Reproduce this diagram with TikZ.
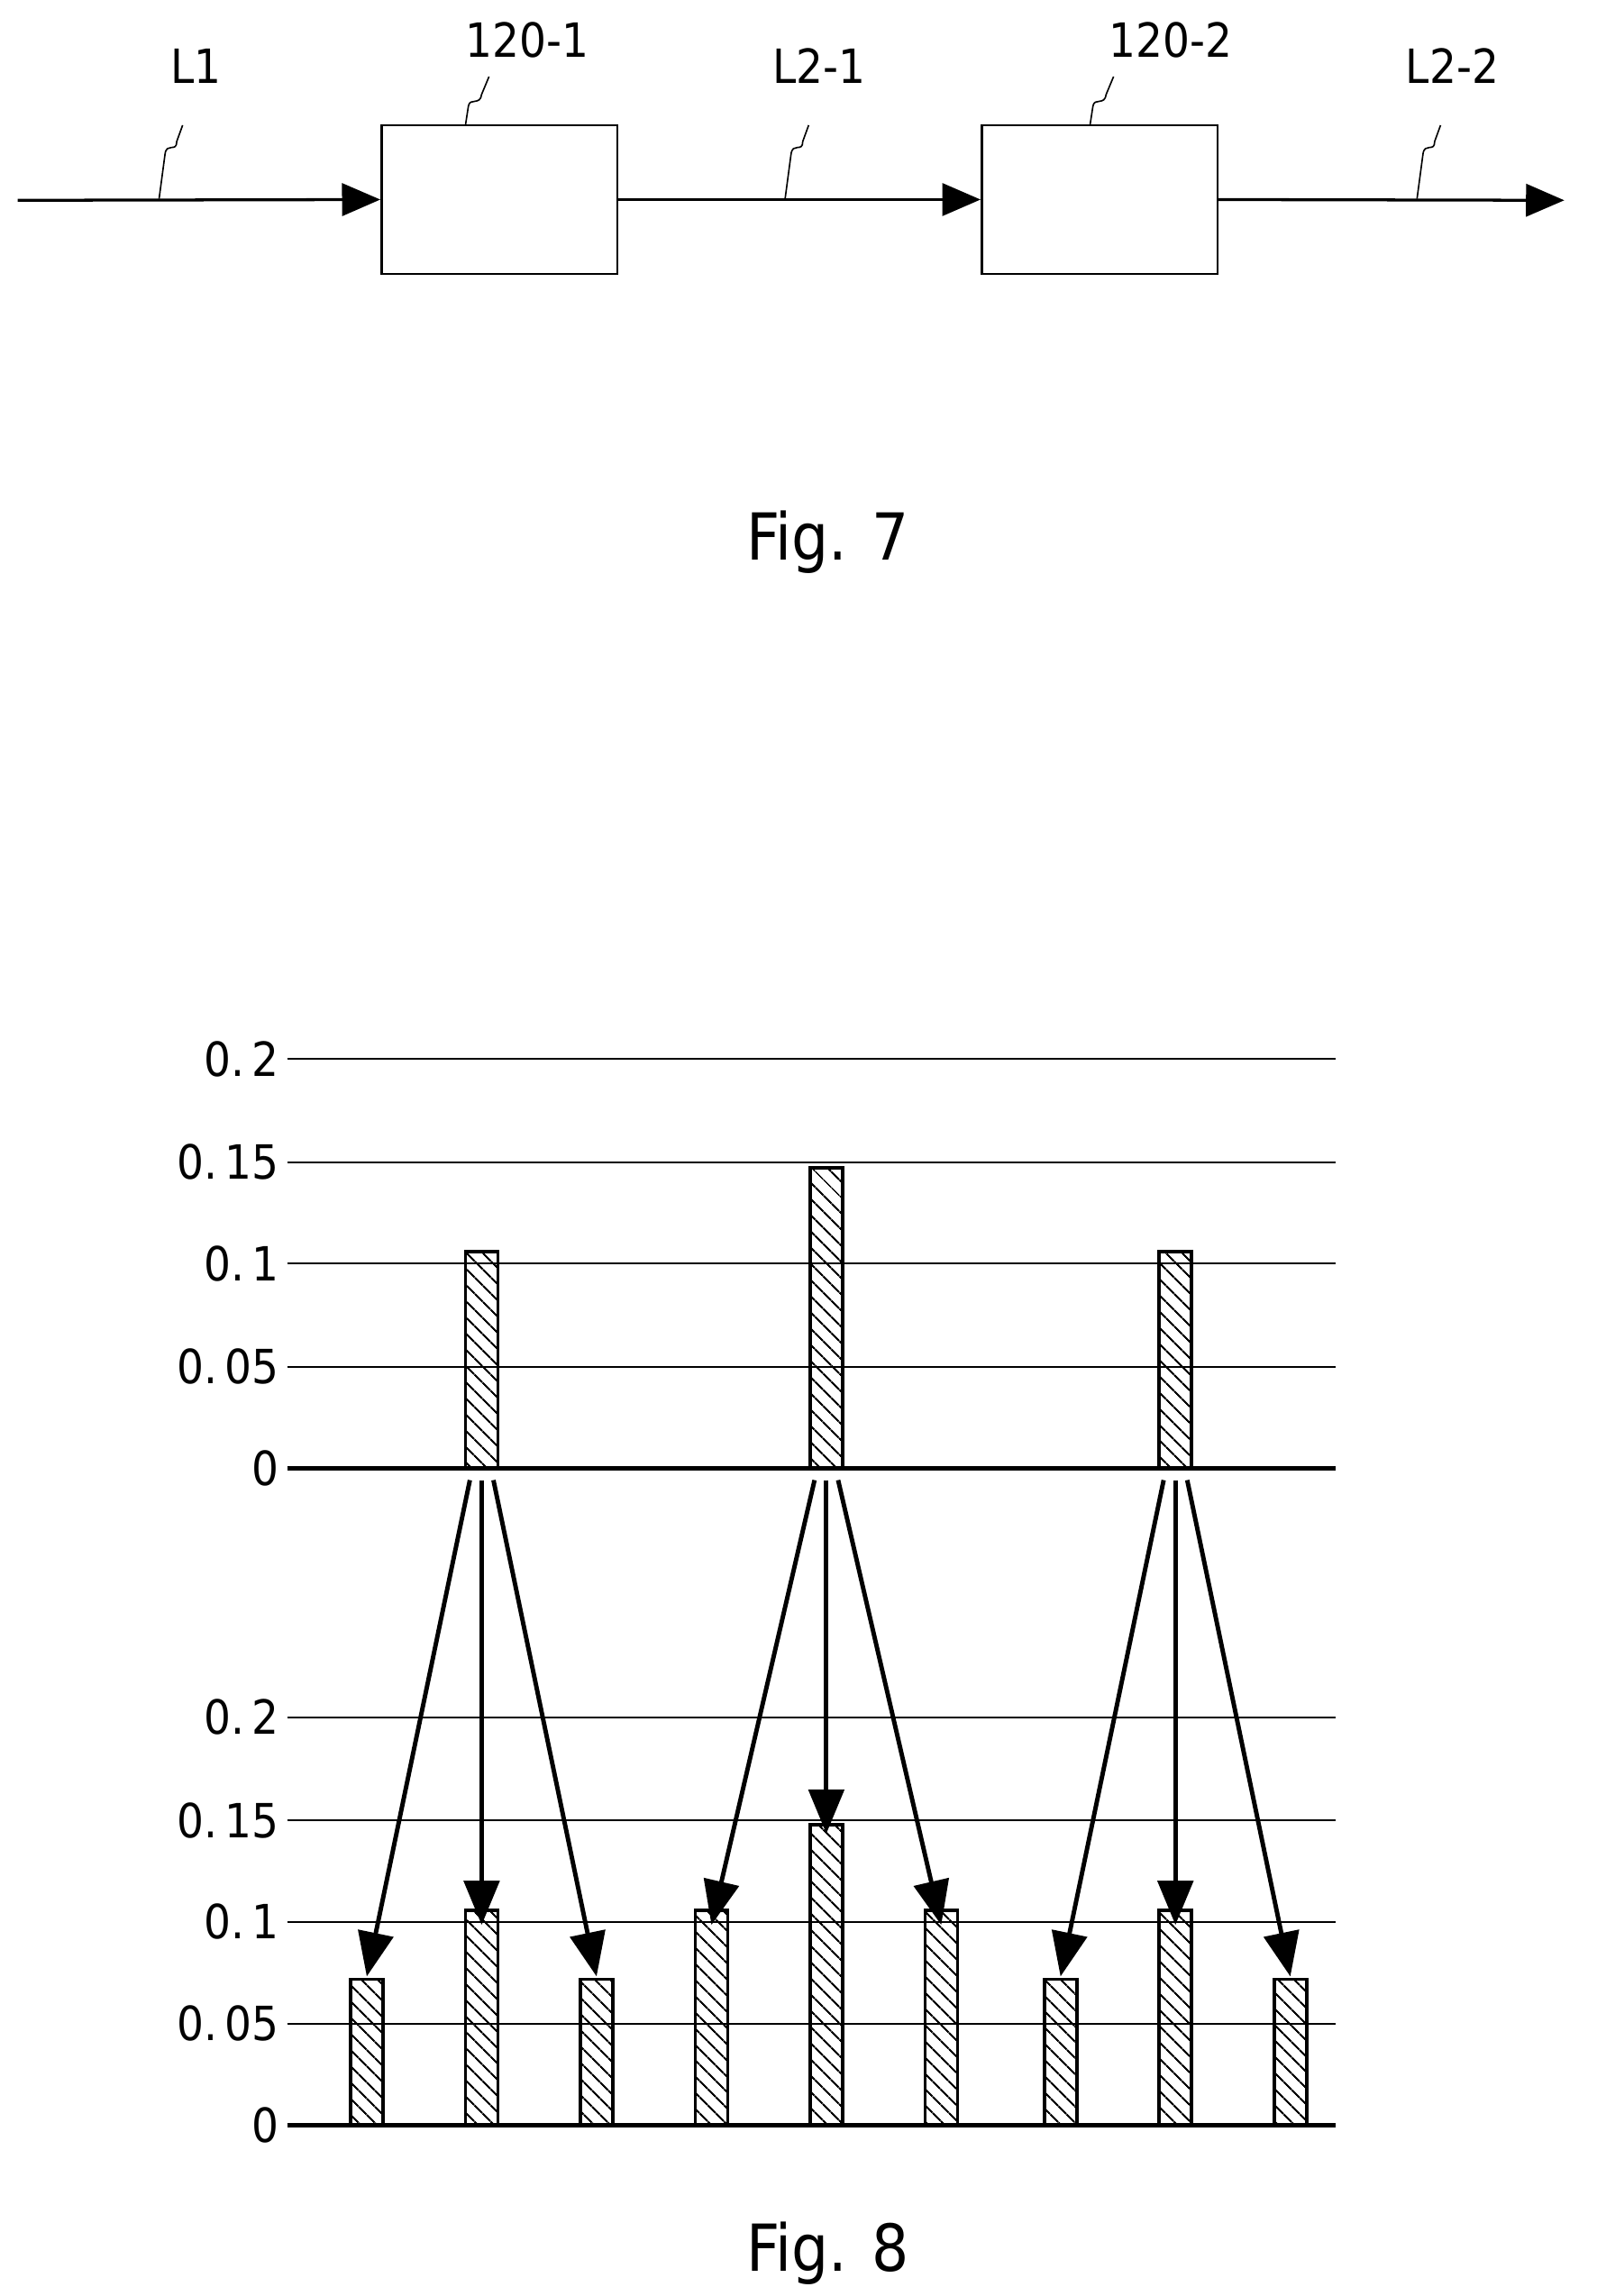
\documentclass[tikz,border=0pt]{standalone}
\usepackage{fontspec}
\setmainfont{DejaVu Sans Condensed}
\usetikzlibrary{arrows.meta,patterns.meta}
\begin{document}
\begin{tikzpicture}[x=0.5pt,y=-0.5pt,
  lbl/.style={font=\fontsize{16}{16}\selectfont,inner sep=0pt},
  figlbl/.style={font=\fontsize{22}{22}\selectfont,inner sep=0pt},
  flow/.style={line width=1pt,-{Triangle[length=13pt,width=11pt]}},
  blk/.style={draw,line width=0.8pt,minimum width=80pt,minimum height=50.5pt,inner sep=0pt},
  sq/.style={line width=0.5pt},
  grid/.style={line width=0.6pt},
  axis/.style={line width=1.3pt},
  bar/.style={draw,line width=1.1pt,pattern={Lines[angle=-45,distance=4pt,line width=0.7pt]}},
  down/.style={line width=1.5pt,-{Triangle[length=15pt,width=12pt]}},
  ytick/.style={lbl,anchor=east}]
\useasboundingbox (0,0) rectangle (1084,1559);
% Fig 7
\coordinate (s) at (12,136);
\node[blk] (b1) at (339,135.5) {};
\node[blk] (b2) at (746.5,135.5) {};
\coordinate (e) at (1062,136);
\draw[flow] (s) -- (b1.west);
\draw[flow] (b1.east) -- (b2.west);
\draw[flow] (b2.east) -- (e);
\draw[sq] (108,135) -- (112,105) .. controls (113,96) and (120,104) .. (120,96) -- (124,85);
\draw[sq] (533,135) -- (537,105) .. controls (538,96) and (545,104) .. (545,96) -- (549,85);
\draw[sq] (962,135) -- (966,105) .. controls (967,96) and (974,104) .. (974,96) -- (978,85);
\draw[sq] (316,85) -- (318,72) .. controls (319,66) and (326,72) .. (327,64) -- (332,52);
\draw[sq] (740,85) -- (742,72) .. controls (743,66) and (750,72) .. (751,64) -- (756,52);
\node[lbl] (tL1) at (133,45) {L1};
\node[lbl] (t1) at (358,27) {120-1};
\node[lbl] (tL21) at (556,45) {L2-1};
\node[lbl] (t2) at (795,27) {120-2};
\node[lbl] (tL22) at (986,45) {L2-2};
\node[figlbl] (f7) at (562,368) {Fig. 7};
% Fig 8
\foreach \y/\t in {719/0.\,2,789/0.\,15,858/0.\,1,928/0.\,05}{
  \draw[grid] (195,\y) -- (907,\y);
  \node[ytick] at (190,\y) {\t};}
\node[ytick] at (190,997) {0};
\foreach \y/\t in {1166/0.\,2,1236/0.\,15,1305/0.\,1,1374/0.\,05}{
  \draw[grid] (195,\y) -- (907,\y);
  \node[ytick] at (190,\y) {\t};}
\node[ytick] at (190,1443) {0};
\foreach \n/\x/\t in {A/327/850,B/561/793,C/798/850}{
  \draw[bar] (\x-11,997) rectangle (\x+11,\t);
  \coordinate (\n) at (\x,1005);}
\foreach \n/\x/\t in {a1/249/1344,a2/327/1297,a3/405/1344,b1/483/1297,b2/561/1239,b3/639/1297,c1/720/1344,c2/798/1297,c3/876/1344}{
  \draw[bar] (\x-11,1443) rectangle (\x+11,\t);
  \coordinate (\n) at (\x,\t-2);}
\draw[axis] (195,997) -- (907,997);
\draw[axis] (195,1443) -- (907,1443);
\draw[down] ([xshift=-4pt]A) -- (a1);
\draw[down] (A) -- ([yshift=-6pt]a2);
\draw[down] ([xshift=4pt]A) -- (a3);
\draw[down] ([xshift=-4pt]B) -- ([yshift=-6pt]b1);
\draw[down] (B) -- ([yshift=-4pt]b2);
\draw[down] ([xshift=4pt]B) -- ([yshift=-6pt]b3);
\draw[down] ([xshift=-4pt]C) -- (c1);
\draw[down] (C) -- ([yshift=-6pt]c2);
\draw[down] ([xshift=4pt]C) -- (c3);
\node[figlbl] (f8) at (562,1530) {Fig. 8};
\end{tikzpicture}
\end{document}
